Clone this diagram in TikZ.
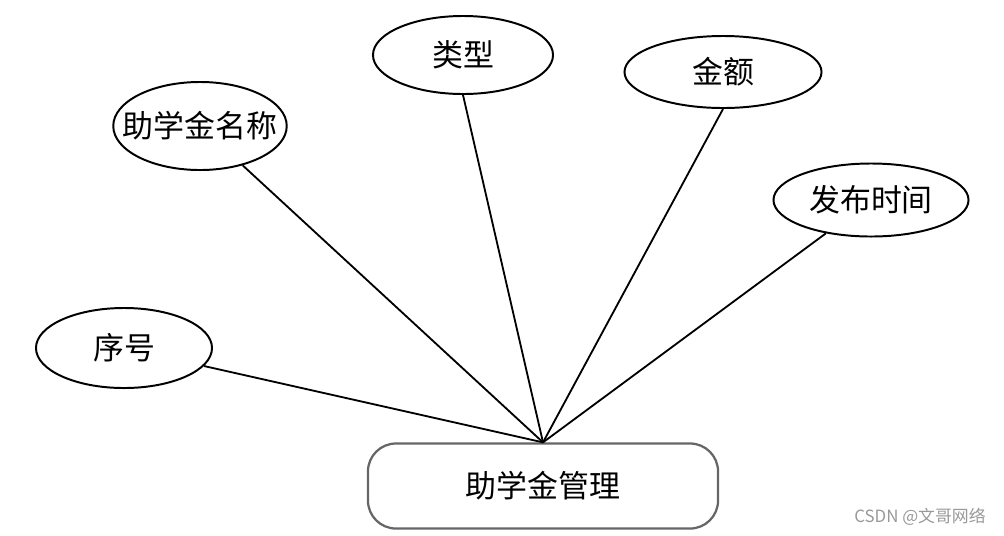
\documentclass[tikz,border=0pt]{standalone}
\usepackage{fontspec}
\usetikzlibrary{shapes.geometric}
\newfontfamily\cjk{Noto Sans CJK SC}
\begin{document}
\begin{tikzpicture}[x=0.025cm, y=-0.025cm]
    % Define entity and attribute styles
    \tikzstyle{attr} = [draw, ellipse, line width=1.4pt, inner sep=0pt, font=\cjk\fontsize{22}{22}\selectfont]
    \tikzstyle{entity} = [draw=black!60, rectangle, rounded corners=0.7cm, line width=1.6pt, minimum width=8.75cm, minimum height=2.125cm, font=\cjk\fontsize{22}{22}\selectfont]
    \tikzstyle{link} = [line width=1.3pt]
    \useasboundingbox (0,0) rectangle (1004,535);

    % Entity node
    \node[entity] (mgmt) at (543,486) {助学金管理};
    \coordinate (hub) at (mgmt.north);

    % Attribute nodes
    \node[attr, minimum width=4.4cm, minimum height=2cm] (xuhao) at (124,348) {序号};
    \node[attr, inner xsep=-0.4cm, minimum height=2.2cm] (mingcheng) at (200,126) {助学金名称};
    \node[attr, minimum width=4.5cm, minimum height=1.95cm] (leixing) at (463,55) {类型};
    \node[attr, minimum width=4.925cm, minimum height=1.8cm] (jine) at (723,72) {金额};
    \node[attr, minimum width=4.875cm, minimum height=1.825cm] (shijian) at (871,200) {发布时间};

    % Connections
    \draw[link] (xuhao) -- (hub);
    \draw[link] (mingcheng) -- (hub);
    \draw[link] (leixing.south) -- (hub);
    \draw[link] (jine.south) -- (hub);
    \draw[link] (shijian) -- (hub);

    % Watermark
    \node[text=black!40, font=\cjk\fontsize{12}{12}\selectfont] (mark) at (920,517) {CSDN @文哥网络};
\end{tikzpicture}
\end{document}
